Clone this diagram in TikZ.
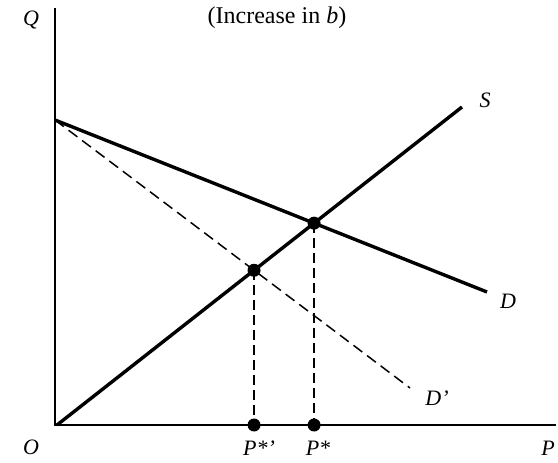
\documentclass[tikz,border=0pt]{standalone}
\usepackage{fontspec}
\setmainfont{Liberation Serif}
\begin{document}
\begin{tikzpicture}[x=1pt,y=-1pt,
  axis/.style={line width=2.4pt},
  curve/.style={line width=3.4pt},
  dcurve/.style={line width=1.5pt,dash pattern=on 11pt off 6pt},
  guide/.style={line width=2pt,dash pattern=on 10pt off 5pt},
  lbl/.style={font=\fontsize{22}{24}\selectfont\itshape,inner sep=0pt},
  dot/.style={circle,fill=black,inner sep=0pt,minimum size=13pt}]
\useasboundingbox (0,0) rectangle (558,463);
% axes
\coordinate (O) at (55,425);
\coordinate (Qtop) at (55,8);
\coordinate (Pend) at (556,425);
\draw[axis] (Qtop) -- (O) -- (Pend);
% curves
\coordinate (Dstart) at (55,120);
\coordinate (Dend) at (487,292);
\coordinate (Sstart) at (57,425);
\coordinate (Send) at (462,107);
\coordinate (Dpend) at (410,388);
\draw[curve] (Dstart) -- (Dend);
\draw[curve] (Sstart) -- (Send);
\draw[dcurve] (Dstart) -- (Dpend);
% equilibria
\coordinate (E) at (intersection of Dstart--Dend and Sstart--Send);
\coordinate (Ep) at (intersection of Dstart--Dpend and Sstart--Send);
\coordinate (PE) at (E |- O);
\coordinate (PEp) at (Ep |- O);
\draw[guide] (E) -- (PE);
\draw[guide] (Ep) -- (PEp);
\node[dot] (dE) at (E) {};
\node[dot] (dEp) at (Ep) {};
\node[dot] (dPE) at (PE) {};
\node[dot] (dPEp) at (PEp) {};
% labels
\node[lbl] (lQ) at (31,20) {Q};
\node[lbl] (lO) at (31,447) {O};
\node[lbl] (lP) at (548,448) {P};
\node[lbl] (lS) at (485,100) {S};
\node[lbl] (lD) at (508,301) {D};
\node[lbl] (lDp) at (437,398) {D'};
\node[lbl] (lPEp) at (259,448) {P*'};
\node[lbl] (lPE) at (318,448) {P*};
\node[font=\fontsize{24}{26}\selectfont,inner sep=0pt] (title) at (277,18) {(Increase in \textit{b})};
\end{tikzpicture}
\end{document}
